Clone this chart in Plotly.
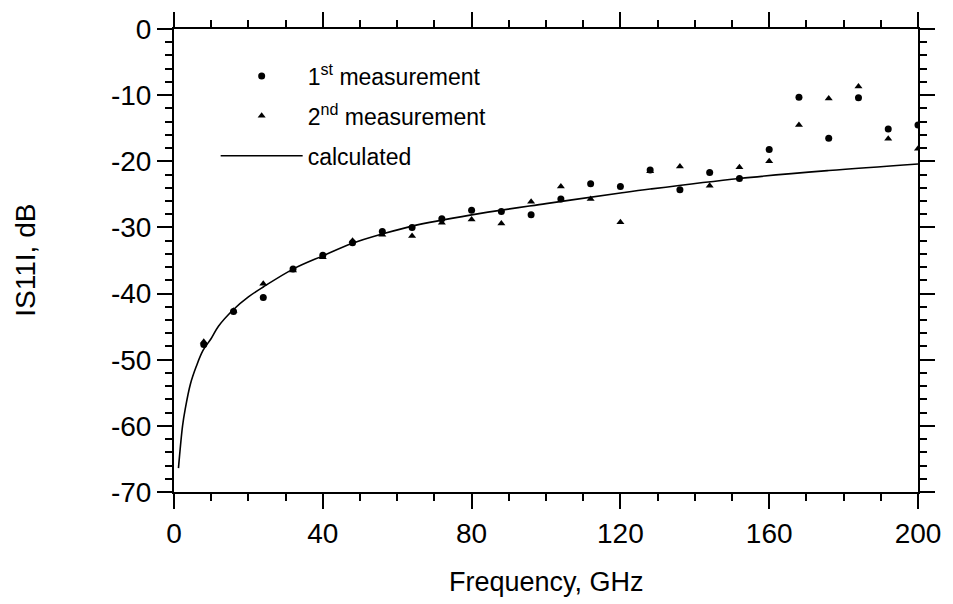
import plotly.graph_objects as go

# Measured frequencies (GHz)
freq = [8, 16, 24, 32, 40, 48, 56, 64, 72, 80, 88, 96, 104, 112, 120, 128,
        136, 144, 152, 160, 168, 176, 184, 192, 200]

# 1st measurement |S11| (dB)
meas1 = [-47.7, -42.7, -40.6, -36.3, -34.2, -32.3, -30.6, -30.0, -28.7, -27.4,
         -27.6, -28.1, -25.7, -23.4, -23.8, -21.3, -24.3, -21.7, -22.6, -18.2,
         -10.3, -16.5, -10.4, -15.1, -14.5]

# 2nd measurement |S11| (dB)
meas2 = [-47.3, -42.6, -38.5, -36.5, -34.5, -32.0, -31.1, -31.3, -29.3, -28.8,
         -29.4, -26.1, -23.8, -25.7, -29.2, -21.5, -20.8, -23.7, -20.9, -20.0,
         -14.5, -10.5, -8.7, -16.6, -18.1]

# Calculated curve
calc_f = [1.2, 2.3, 3.0, 4.4, 6.0, 7.8, 10, 12, 16, 20, 24, 32, 40, 48, 56,
          64, 80, 100, 120, 128, 152, 176, 200]
calc_db = [-66.4, -60.0, -57.5, -53.7, -51.0, -48.6, -46.8, -44.9, -42.4,
           -40.5, -39.0, -36.3, -34.3, -32.4, -31.0, -29.8, -28.1, -26.4,
           -24.8, -24.2, -22.6, -21.4, -20.4]

x_ticks = [0, 40, 80, 120, 160, 200]
y_ticks = [0, -10, -20, -30, -40, -50, -60, -70]
y_tick_text = ["0", "-10", "-20", "-30", "-40", "-50", "-60", "-70"]

FONT = "Liberation Sans, Arial, Helvetica, sans-serif"

fig = go.Figure()
fig.add_trace(go.Scatter(x=freq, y=meas1, mode="markers",
                         name="1<sup>st</sup> measurement", legendgroup="a",
                         marker=dict(symbol="circle", size=7, color="black")))
fig.add_trace(go.Scatter(x=freq, y=meas2, mode="markers",
                         name="2<sup>nd</sup> measurement", legendgroup="b",
                         marker=dict(symbol="triangle-up", size=7, color="black")))
fig.add_trace(go.Scatter(x=calc_f, y=calc_db, mode="lines", name="calculated",
                         legendgroup="c",
                         line=dict(color="black", width=1.6, shape="spline")))

axis_common = dict(showline=True, linecolor="black", linewidth=2,
                   mirror="allticks", ticks="outside", ticklen=15,
                   tickwidth=2, tickcolor="black", showgrid=False,
                   zeroline=False,
                   tickfont=dict(family=FONT, size=28, color="black"))

fig.update_xaxes(range=[0, 200], tickvals=x_ticks,
                 minor=dict(dtick=10, ticks="outside", ticklen=7,
                            tickwidth=1.5, tickcolor="black", showgrid=False),
                 **axis_common)
fig.update_yaxes(range=[-70, 0], tickvals=y_ticks, ticktext=y_tick_text,
                 minor=dict(dtick=2, ticks="outside", ticklen=7,
                            tickwidth=1.5, tickcolor="black", showgrid=False),
                 **axis_common)

fig.add_annotation(text="Frequency, GHz", xref="paper", yref="paper",
                   x=0.5, y=-0.194, showarrow=False, xanchor="center",
                   yanchor="middle",
                   font=dict(family=FONT, size=27, color="black"))
fig.add_annotation(text="IS11I, dB", xref="paper", yref="paper",
                   x=-0.2, y=0.5, showarrow=False, textangle=-90,
                   xanchor="center", yanchor="middle",
                   font=dict(family=FONT, size=28, color="black"))

fig.update_layout(
    width=953, height=604,
    margin=dict(l=174, r=29, t=24, b=112),
    paper_bgcolor="white", plot_bgcolor="white",
    showlegend=True,
    legend=dict(x=0.056, y=0.945, xanchor="left", yanchor="top",
                bgcolor="rgba(0,0,0,0)", itemwidth=82, tracegroupgap=7,
                font=dict(family=FONT, size=23, color="black")),
)

fig.write_html(
    "out.html",
    config={"displayModeBar": False},
    post_script="document.body.style.margin='0';"
                "document.body.style.overflow='hidden';",
)
